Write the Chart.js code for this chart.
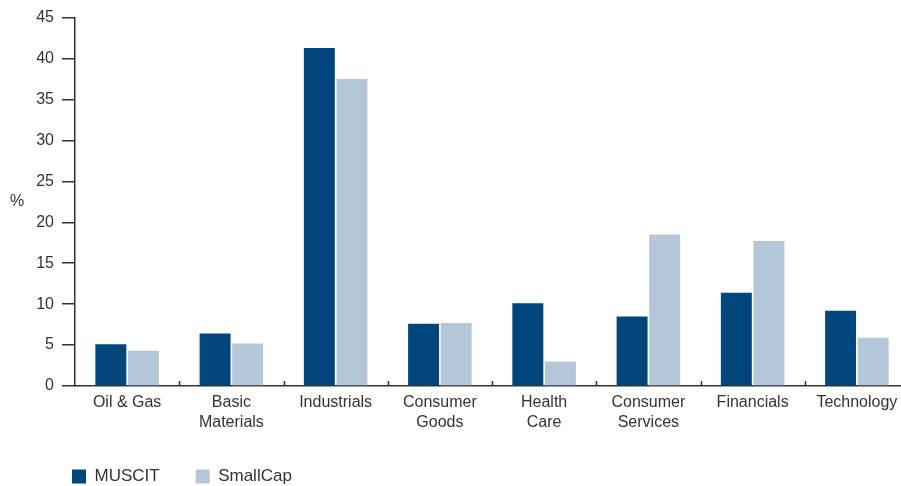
<!DOCTYPE html>
<html>
<head>
<meta charset="utf-8">
<script src="https://cdn.jsdelivr.net/npm/chart.js@4/dist/chart.umd.min.js"></script>
<style>
  html, body { margin: 0; padding: 0; background: #fff; overflow: hidden; }
  #myChart { display: block; }
</style>
</head>
<body>
<canvas id="myChart" width="915" height="495"></canvas>
<script>
var sectors = ["Oil & Gas", ["Basic", "Materials"], "Industrials", ["Consumer", "Goods"],
    ["Health", "Care"], ["Consumer", "Services"], "Financials", "Technology"];
var muscit = [5.1, 6.4, 41.3, 7.6, 10.1, 8.5, 11.4, 9.2];
var smallCap = [4.3, 5.2, 37.5, 7.7, 3.0, 18.5, 17.7, 5.9];
var yTicks = [0, 5, 10, 15, 20, 25, 30, 35, 40, 45];

var textColor = '#333333';
var axisColor = '#333333';

// "%" sits horizontally left of the y axis, and the x ticks point up into the plot
var extras = {
    id: 'extras',
    afterDraw: function(chart) {
        var c = chart.ctx;
        var area = chart.chartArea;
        var xs = chart.scales.x;
        c.save();
        c.font = '16px "Liberation Sans", Arial, sans-serif';
        c.fillStyle = textColor;
        c.textAlign = 'center';
        c.textBaseline = 'middle';
        c.fillText('%', 17, (area.top + area.bottom) / 2);

        c.strokeStyle = axisColor;
        c.lineWidth = 1.5;
        c.beginPath();
        for (var i = 1; i < sectors.length; i++) {
            var x = Math.round(xs.getPixelForValue(i - 0.5)) + 0.5;
            c.moveTo(x, area.bottom);
            c.lineTo(x, area.bottom - 5);
        }
        c.stroke();
        c.restore();
    }
};

Chart.defaults.font.family = '"Liberation Sans", Arial, sans-serif';
Chart.defaults.font.size = 16;
Chart.defaults.color = textColor;

var ctx = document.getElementById("myChart");
var myChart = new Chart(ctx, {
    type: 'bar',
    data: {
        labels: sectors,
        datasets: [{
            label: 'MUSCIT',
            data: muscit,
            backgroundColor: '#00457C'
        }, {
            label: 'SmallCap',
            data: smallCap,
            backgroundColor: '#B4C7D9'
        }]
    },
    options: {
        responsive: false,
        animation: false,
        categoryPercentage: 0.625,
        barPercentage: 0.95,
        layout: {
            padding: { left: 36, right: 6, top: 16, bottom: 0 }
        },
        plugins: {
            legend: {
                position: 'bottom',
                align: 'start',
                labels: {
                    boxWidth: 14,
                    boxHeight: 14,
                    padding: 36,
                    font: { size: 17, lineHeight: 1.25 }
                }
            },
            tooltip: { enabled: false }
        },
        scales: {
            x: {
                afterFit: function(axis) { axis.height = 46; },
                grid: {
                    offset: true,
                    display: true,
                    drawOnChartArea: false,
                    drawTicks: false
                },
                border: { display: true, color: axisColor, width: 1.5 },
                ticks: {
                    maxRotation: 0,
                    autoSkip: false,
                    padding: 7,
                    font: { size: 16, lineHeight: 1.25 }
                }
            },
            y: {
                min: yTicks[0],
                max: yTicks[yTicks.length - 1],
                afterBuildTicks: function(axis) {
                    axis.ticks = yTicks.map(function(v) { return { value: v }; });
                },
                afterFit: function(axis) { axis.width = 39; },
                grid: {
                    drawOnChartArea: false,
                    drawTicks: true,
                    tickLength: 13,
                    color: axisColor,
                    lineWidth: 1.5
                },
                border: { display: true, color: axisColor, width: 1.5 },
                ticks: {
                    padding: 8,
                    font: { size: 16 }
                }
            }
        }
    },
    plugins: [extras]
});
</script>
</body>
</html>
